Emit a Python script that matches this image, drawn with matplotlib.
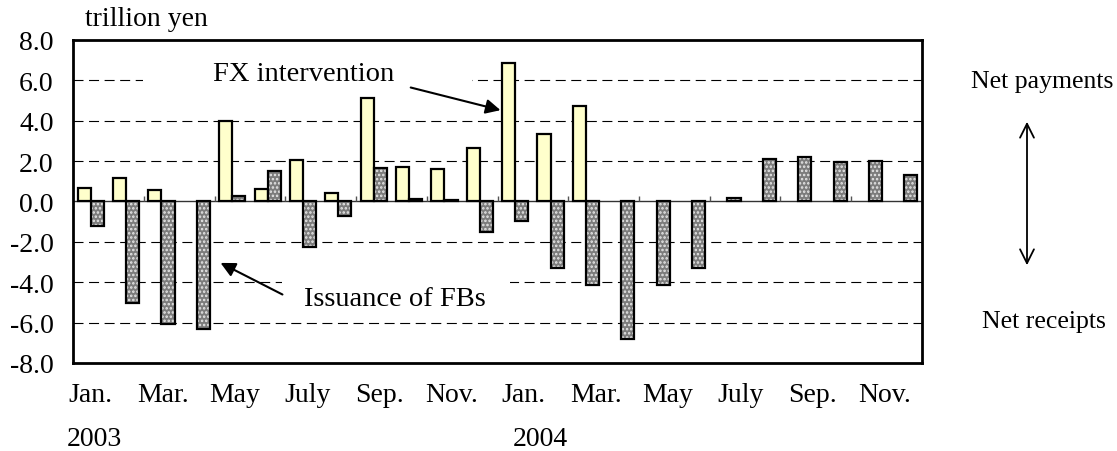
import numpy as np
import matplotlib.pyplot as plt
from matplotlib.patches import Rectangle, FancyArrowPatch

plt.rcParams['font.family'] = ['Liberation Serif', 'DejaVu Serif']
plt.rcParams['hatch.linewidth'] = 1.2

# monthly values, Jan. 2003 - Dec. 2004 (trillion yen)
months = ['Jan.', 'Feb.', 'Mar.', 'Apr.', 'May', 'June', 'July', 'Aug.', 'Sep.', 'Oct.', 'Nov.', 'Dec.'] * 2
fx_intervention = [0.68, 1.14, 0.56, 0.0, 4.00, 0.64, 2.05, 0.43, 5.13, 1.70, 1.60, 2.66,
                   6.86, 3.32, 4.72, 0.0, 0.0, 0.0, 0.0, 0.0, 0.0, 0.0, 0.0, 0.0]
fb_issuance = [-1.22, -5.03, -6.06, -6.32, 0.25, 1.53, -2.26, -0.73, 1.65, 0.13, 0.05, -1.49,
               -0.96, -3.28, -4.13, -6.83, -4.13, -3.30, 0.18, 2.11, 2.21, 1.95, 2.03, 1.32]
tick_labels = ['Jan.', 'Mar.', 'May', 'July', 'Sep.', 'Nov.'] * 2
years = ['2003', '2004']

x = np.arange(len(months))
w = 0.37
fx = np.array(fx_intervention)
fx = np.where(fx == 0, np.nan, fx)  # months without intervention: no bar

fig = plt.figure(figsize=(11.17, 4.52), dpi=100)
ax = fig.add_axes([0.0654, 0.1947, 0.76, 0.7146])

# bars: yellow for intervention, dotted grey for FB issuance
ax.bar(x - w / 2, fx, w, color='#ffffcc', edgecolor='black', lw=1.6, zorder=3)
ax.bar(x + w / 2, fb_issuance, w, color='#7c7c7c', edgecolor='#e8e8e8', hatch='....', lw=0, zorder=3)
ax.bar(x + w / 2, fb_issuance, w, color='none', edgecolor='black', lw=1.6, zorder=4)

ax.set_xlim(-0.5, 23.5)
ax.set_ylim(-8, 8)

# dashed grid lines
for g in [-6, -4, -2, 2, 4, 6]:
    ax.axhline(g, color='black', lw=0.8, ls=(0, (9, 5)), zorder=1)
ax.axhline(0, color='#333333', lw=1.0, zorder=2)
# small marks on the zero line every two months
ax.vlines(np.arange(1.5, 23, 2), 0, 0.25, color='#555555', lw=1, zorder=2)

ax.set_yticks(np.arange(-8, 9, 2))
ax.set_yticklabels(['%.1f' % v for v in np.arange(-8, 9, 2)], fontsize=20)
ax.set_xticks(np.arange(12) * 2.04)
ax.set_xticklabels(tick_labels, fontsize=20)
ax.tick_params(length=0, pad=14)
for s in ax.spines.values():
    s.set_linewidth(2)

# label boxes that cut through the grid
ax.add_patch(Rectangle((1.48, 5.55), 9.3, 1.3, facecolor='white', edgecolor='none', zorder=1.5))
ax.add_patch(Rectangle((5.41, -5.8), 6.44, 2.2, facecolor='white', edgecolor='none', zorder=1.5))

ax.text(6.03, 6.32, 'FX intervention', fontsize=20.5, ha='center', va='center', zorder=5)
ax.annotate('', xy=(11.66, 4.49), xytext=(8.97, 5.68),
            arrowprops=dict(arrowstyle='-|>', color='black', lw=1.5, mutation_scale=22), zorder=5)
ax.text(8.6, -4.82, 'Issuance of FBs', fontsize=20.5, ha='center', va='center', zorder=5)
ax.annotate('', xy=(3.6, -2.98), xytext=(5.49, -4.67),
            arrowprops=dict(arrowstyle='-|>', color='black', lw=1.5, mutation_scale=22), zorder=5)

fig.text(85 / 1117, 1 - 20 / 452, 'trillion yen', fontsize=20, ha='left', va='center')
fig.text(94 / 1117, 1 - 440 / 452, years[0], fontsize=20, ha='center', va='center')
fig.text(540 / 1117, 1 - 440 / 452, years[1], fontsize=20, ha='center', va='center')

fig.text(1042 / 1117, 1 - 82 / 452, 'Net payments', fontsize=18.5, ha='center', va='center')
fig.text(1044 / 1117, 1 - 322 / 452, 'Net receipts', fontsize=18.5, ha='center', va='center')
fig.patches.append(FancyArrowPatch(
    (1027 / 1117, 1 - 120 / 452), (1027 / 1117, 1 - 269 / 452), transform=fig.transFigure,
    arrowstyle='<->,head_length=0.5,head_width=0.25', color='black', lw=1.3, mutation_scale=20))

fig.savefig('out.png', dpi=100)
